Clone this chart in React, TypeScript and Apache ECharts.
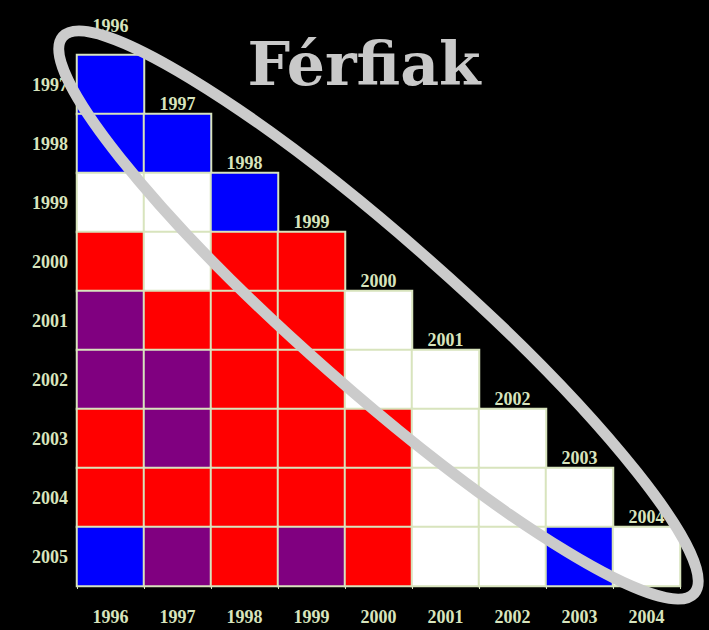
import React, { useEffect, useRef } from "react";
import * as echarts from "echarts";

const xCategories = ["1996", "1997", "1998", "1999", "2000", "2001", "2002", "2003", "2004"];
const yCategories = ["1997", "1998", "1999", "2000", "2001", "2002", "2003", "2004", "2005"];
const diagonalLabels = ["1996", "1997", "1998", "1999", "2000", "2001", "2002", "2003", "2004"];
const titleText = "Férfiak";

// B = blue, W = white, R = red, P = purple ; row i lists columns 0..i
const cellRows: string[][] = [
  ["B"],
  ["B", "B"],
  ["W", "W", "B"],
  ["R", "W", "R", "R"],
  ["P", "R", "R", "R", "W"],
  ["P", "P", "R", "R", "W", "W"],
  ["R", "P", "R", "R", "R", "W", "W"],
  ["R", "R", "R", "R", "R", "W", "W", "W"],
  ["B", "P", "R", "P", "R", "W", "W", "B", "W"],
];
const codeList = ["B", "W", "R", "P"];
const codeColors = ["#0000ff", "#ffffff", "#ff0000", "#800080"];

const LABEL = "#d8e4bd";
const GRAY = "#cbcbcb";

export default function App() {
  const ref = useRef<HTMLDivElement>(null);
  useEffect(() => {
    document.body.style.margin = "0";
    document.body.style.background = "#000";
    const chart = echarts.init(ref.current!, null, { renderer: "svg" });
    const heatData: number[][] = [];
    cellRows.forEach((row, r) =>
      row.forEach((code, c) => heatData.push([c, r, codeList.indexOf(code)]))
    );
    const diagData = diagonalLabels.map((_, i) => [i, i]);
    const labelFont = 'bold 18px "Liberation Serif", serif';
    chart.setOption({
      animation: false,
      backgroundColor: "#000",
      grid: { left: 77, top: 55, width: 603, height: 531 },
      xAxis: {
        type: "category",
        data: xCategories,
        position: "bottom",
        axisLine: { show: true, lineStyle: { color: LABEL, width: 2 } },
        axisTick: { show: true, length: 3, lineStyle: { color: LABEL } },
        axisLabel: {
          color: LABEL,
          fontFamily: "Liberation Serif",
          fontWeight: "bold",
          fontSize: 18,
          margin: 22,
        },
        splitLine: { show: false },
      },
      yAxis: {
        type: "category",
        data: yCategories,
        inverse: true,
        axisLine: { show: false },
        axisTick: { show: false },
        axisLabel: {
          color: LABEL,
          fontFamily: "Liberation Serif",
          fontWeight: "bold",
          fontSize: 18,
          margin: 9,
        },
        splitLine: { show: false },
      },
      visualMap: {
        show: false,
        type: "piecewise",
        dimension: 2,
        pieces: codeColors.map((color, i) => ({ value: i, color })),
      },
      series: [
        {
          type: "heatmap",
          data: heatData,
          itemStyle: { borderColor: LABEL, borderWidth: 2 },
          emphasis: { disabled: true },
        },
        {
          type: "custom",
          data: diagData,
          z: 5,
          renderItem: (params: any, api: any) => {
            const p = api.coord([api.value(0), api.value(1)]);
            const s = api.size([1, 1]);
            const extra = params.dataIndex === 0 ? 19 : 0;
            return {
              type: "text",
              x: p[0],
              y: p[1] - s[1] / 2 - 1.5 - extra,
              style: {
                text: diagonalLabels[params.dataIndex],
                fill: LABEL,
                font: labelFont,
                align: "center",
                verticalAlign: "bottom",
              },
            };
          },
        },
      ],
      graphic: [
        {
          type: "text",
          x: 364,
          y: 64,
          z: 50,
          style: {
            text: titleText,
            fill: "#c9c9c9",
            font: 'bold 60px "DejaVu Serif", serif',
            align: "center",
            verticalAlign: "middle",
          },
        },
        {
          type: "ellipse",
          x: 378.5,
          y: 315,
          rotation: -41.4 * Math.PI / 180,
          z: 100,
          shape: { cx: 0, cy: 0, rx: 421, ry: 75 },
          style: { fill: "none", stroke: GRAY, lineWidth: 11 },
        },
      ],
    });
    return () => chart.dispose();
  }, []);
  return (
    <div
      ref={ref}
      style={{ position: "absolute", left: 0, top: 0, width: 709, height: 630, background: "#000" }}
    />
  );
}
